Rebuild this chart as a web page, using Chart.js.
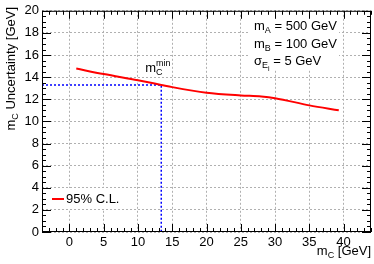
<!DOCTYPE html>
<html>
<head>
<meta charset="utf-8">
<script src="https://cdn.jsdelivr.net/npm/chart.js@4"></script>
<style>
    html, body { margin: 0; padding: 0; background: #fff; }
    #wrap { width: 374px; height: 264px; }
</style>
</head>
<body>
<div id="wrap"><canvas id="chart" width="374" height="264"></canvas></div>
<script>
// Chart data
const mcValues = [1, 5, 10, 13.4, 15, 20, 25, 28, 30, 35, 39.3];
const uncertainty = [14.78, 14.28, 13.72, 13.3, 13.1, 12.6, 12.35, 12.25, 12.1, 11.45, 11.0];
const mcMin = 13.4;
const mcMinUncertainty = 13.3;
const xTicks = [0, 5, 10, 15, 20, 25, 30, 35, 40];
const yTicks = [0, 2, 4, 6, 8, 10, 12, 14, 16, 18, 20];
const xRange = [-4, 44];
const yRange = [0, 20];
const legendLabel = '95% C.L.';

const FONT = '"Liberation Sans", Arial, Helvetica, sans-serif';

// Draw text made of pieces (subscripts, superscripts)
function richWidth(ctx, parts) {
    let w = 0;
    parts.forEach(p => {
        ctx.font = p.size + 'px ' + FONT;
        if (!p.stack) w += ctx.measureText(p.t).width;
    });
    return w;
}

function drawRich(ctx, parts, x, y, align) {
    let cx = align === 'right' ? x - richWidth(ctx, parts) : x;
    ctx.textAlign = 'left';
    ctx.textBaseline = 'alphabetic';
    parts.forEach(p => {
        ctx.font = p.size + 'px ' + FONT;
        ctx.fillText(p.t, cx, y + (p.dy || 0));
        if (!p.stack) cx += ctx.measureText(p.t).width;
    });
}

// Grid cover boxes, frame, ticks and labels
const decorPlugin = {
    id: 'decor',
    beforeDatasetsDraw(chart) {
        const ctx = chart.ctx;
        ctx.save();
        ctx.fillStyle = '#fff';
        ctx.fillRect(248, 16, 91, 54);   // parameter box
        ctx.fillRect(44, 188, 90, 21);   // legend box
        ctx.restore();
    },
    afterDatasetsDraw(chart) {
        const ctx = chart.ctx;
        const a = chart.chartArea;
        const xs = chart.scales.x, ys = chart.scales.y;
        ctx.save();

        // frame
        ctx.strokeStyle = '#000';
        ctx.lineWidth = 1;
        ctx.strokeRect(a.left + 0.5, a.top + 0.5, a.right - a.left - 1, a.bottom - a.top - 1);

        // x ticks, bottom and top
        ctx.beginPath();
        for (let v = Math.ceil(xRange[0]); v <= xRange[1]; v++) {
            const px = Math.round(xs.getPixelForValue(v)) + 0.5;
            const len = v % 5 === 0 ? 8 : 4;
            ctx.moveTo(px, a.bottom); ctx.lineTo(px, a.bottom - len);
            ctx.moveTo(px, a.top); ctx.lineTo(px, a.top + len);
        }
        // y ticks, left and right
        for (let v = yRange[0]; v <= yRange[1]; v += 0.5) {
            const py = Math.round(ys.getPixelForValue(v)) + 0.5;
            const len = v % 2 === 0 ? 9 : 4;
            ctx.moveTo(a.left, py); ctx.lineTo(a.left + len, py);
            ctx.moveTo(a.right, py); ctx.lineTo(a.right - len, py);
        }
        ctx.stroke();

        ctx.fillStyle = '#000';

        // m_C^min label next to the marked point
        const mx = xs.getPixelForValue(mcMin) - 16;
        const my = ys.getPixelForValue(mcMinUncertainty) - 13;
        drawRich(ctx, [
            { t: 'm', size: 13 },
            { t: 'min', size: 9, dy: -6, stack: true },
            { t: 'C', size: 9, dy: 3 }
        ], mx, my);

        // parameter box
        drawRich(ctx, [{ t: 'm', size: 13 }, { t: 'A', size: 9, dy: 3 }, { t: ' = 500 GeV', size: 13 }], 254, 29.5);
        drawRich(ctx, [{ t: 'm', size: 13 }, { t: 'B', size: 9, dy: 3 }, { t: ' = 100 GeV', size: 13 }], 254, 47.5);
        drawRich(ctx, [{ t: 'σ', size: 13 }, { t: 'E', size: 9, dy: 3 }, { t: 'i', size: 7, dy: 6 }, { t: ' = 5 GeV', size: 13 }], 254, 65);

        // legend
        ctx.strokeStyle = 'rgb(255,0,0)';
        ctx.lineWidth = 2;
        ctx.beginPath();
        ctx.moveTo(52, 199); ctx.lineTo(64, 199);
        ctx.stroke();
        ctx.font = '13px ' + FONT;
        ctx.textBaseline = 'middle';
        ctx.fillText(legendLabel, 66, 199.5);

        // axis titles
        drawRich(ctx, [{ t: 'm', size: 13 }, { t: 'C', size: 9, dy: 3 }, { t: ' [GeV]', size: 13 }], 371, 255, 'right');
        ctx.translate(15, 7);
        ctx.rotate(-Math.PI / 2);
        drawRich(ctx, [{ t: 'm', size: 13 }, { t: 'C', size: 9, dy: 3 }, { t: ' Uncertainty [GeV]', size: 13 }], 0, 0, 'right');

        ctx.restore();
    }
};

const gridStyle = {
    color: '#b0b0b0',
    lineWidth: 1,
    drawTicks: false
};

new Chart(document.getElementById('chart').getContext('2d'), {
    type: 'line',
    data: {
        datasets: [
            {
                label: legendLabel,
                data: mcValues.map((x, i) => ({ x: x, y: uncertainty[i] })),
                borderColor: 'rgb(255,0,0)',
                borderWidth: 2,
                pointRadius: 0,
                cubicInterpolationMode: 'monotone',
                fill: false
            },
            {
                label: 'min',
                data: [
                    { x: xRange[0], y: mcMinUncertainty },
                    { x: mcMin, y: mcMinUncertainty },
                    { x: mcMin, y: yRange[0] }
                ],
                borderColor: 'rgb(0,0,255)',
                borderWidth: 1.5,
                borderDash: [2, 2],
                pointRadius: 0,
                tension: 0,
                fill: false
            }
        ]
    },
    options: {
        responsive: false,
        animation: false,
        layout: { padding: { top: 7, right: 3, left: 0, bottom: 0 } },
        plugins: {
            legend: { display: false },
            tooltip: { enabled: false }
        },
        scales: {
            x: {
                type: 'linear',
                min: xRange[0],
                max: xRange[1],
                afterBuildTicks: s => { s.ticks = xTicks.map(v => ({ value: v })); },
                afterFit: s => { s.height = 32; },
                grid: gridStyle,
                border: { display: false, dash: [2, 2] },
                ticks: {
                    color: '#000',
                    font: { family: FONT, size: 13 },
                    padding: 3,
                    maxRotation: 0
                }
            },
            y: {
                type: 'linear',
                min: yRange[0],
                max: yRange[1],
                afterBuildTicks: s => { s.ticks = yTicks.map(v => ({ value: v })); },
                afterFit: s => { s.width = 42; },
                grid: gridStyle,
                border: { display: false, dash: [2, 2] },
                ticks: {
                    color: '#000',
                    font: { family: FONT, size: 13 },
                    padding: 3
                }
            }
        }
    },
    plugins: [decorPlugin]
});
</script>
</body>
</html>
